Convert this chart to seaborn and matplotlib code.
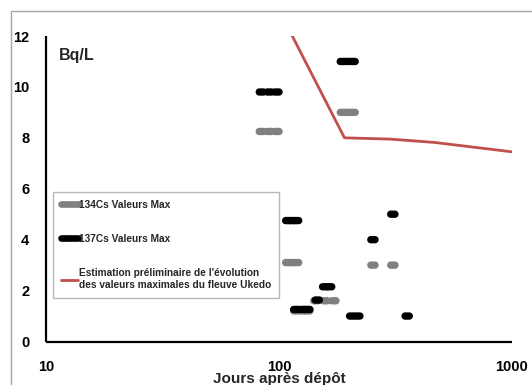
import matplotlib
matplotlib.use("Agg")
import numpy as np
import matplotlib.pyplot as plt
import seaborn as sns
import pandas as pd
from matplotlib.lines import Line2D
from matplotlib.path import Path
from matplotlib.patches import Rectangle
from matplotlib.ticker import FixedLocator, FixedFormatter, NullLocator

# ---- data ----
cs134_days = [84, 91, 98, 187, 197, 208, 109, 114, 119, 253, 308, 144, 158, 172, 118, 126, 133]
cs134_vals = [8.25, 8.25, 8.25, 9.0, 9.0, 9.0, 3.1, 3.1, 3.1, 3.0, 3.0, 1.6, 1.6, 1.6, 1.2, 1.2, 1.2]

cs137_days = [84, 91, 98, 187, 197, 208, 109, 114, 119, 308, 253, 157, 165, 146, 118, 126, 133, 205, 218, 355]
cs137_vals = [9.8, 9.8, 9.8, 11.0, 11.0, 11.0, 4.75, 4.75, 4.75, 5.0, 4.0, 2.15, 2.15, 1.63, 1.26, 1.26, 1.26, 1.0, 1.0, 1.0]

est_days = [114, 191, 300, 464, 1000]
est_vals = [12.0, 8.0, 7.95, 7.82, 7.45]

xticks = [10, 100, 1000]
xtick_labels = ["10", "100", "1000"]
yticks = [0, 2, 4, 6, 8, 10, 12]

labels = ["134Cs Valeurs Max", "137Cs Valeurs Max",
          "Estimation préliminaire de l'évolution\ndes valeurs maximales du fleuve Ukedo"]

GRAY = "#808080"
BLACK = "#000000"
RED = "#C0504D"

# rounded-dash marker shape (stadium)
_r = 0.32
_t1 = np.linspace(-np.pi / 2, np.pi / 2, 12)
_t2 = np.linspace(np.pi / 2, 3 * np.pi / 2, 12)
_verts = np.concatenate([
    np.column_stack([0.5 - _r + _r * np.cos(_t1), _r * np.sin(_t1)]),
    np.column_stack([-0.5 + _r + _r * np.cos(_t2), _r * np.sin(_t2)]),
])
_verts = np.vstack([_verts, _verts[:1]])
DASH = Path(_verts, closed=True)

sns.set_style("white")
plt.rcParams["font.family"] = ["Liberation Sans", "DejaVu Sans"]

fig = plt.figure(figsize=(5.32, 3.85), dpi=100)
ax = fig.add_axes([46 / 532, 1 - 341.5 / 385, 466 / 532, 305.5 / 385])

fig.patches.append(Rectangle((10.5 / 532, -0.1), 1.2, 1.1 - 11 / 385,
                             transform=fig.transFigure, fill=False,
                             edgecolor="#a6a6a6", lw=1.0, zorder=0))

df134 = pd.DataFrame({"days": cs134_days, "val": cs134_vals})
df137 = pd.DataFrame({"days": cs137_days, "val": cs137_vals})
dfest = pd.DataFrame({"days": est_days, "val": est_vals})

sns.lineplot(data=dfest, x="days", y="val", color=RED, lw=2.0, ax=ax, zorder=2)
sns.scatterplot(data=df134, x="days", y="val", marker=DASH, s=68, linewidth=0,
                edgecolor="none", color=GRAY, ax=ax, zorder=3)
sns.scatterplot(data=df137, x="days", y="val", marker=DASH, s=68, linewidth=0,
                edgecolor="none", color=BLACK, ax=ax, zorder=4)

ax.set_xscale("log")
ax.set_xlim(10, 1000)
ax.set_ylim(0, 12)
ax.xaxis.set_major_locator(FixedLocator(xticks))
ax.xaxis.set_major_formatter(FixedFormatter(xtick_labels))
ax.xaxis.set_minor_locator(NullLocator())
ax.set_yticks(yticks)
ax.set_yticklabels([str(v) for v in yticks])

for side in ["top", "right"]:
    ax.spines[side].set_visible(False)
for side in ["left", "bottom"]:
    ax.spines[side].set_linewidth(1.6)
    ax.spines[side].set_color("black")
    ax.spines[side].set_capstyle("butt")

ax.tick_params(axis="both", direction="out", length=5, width=1.6, color="black",
               labelsize=10.5, labelcolor="black")
ax.tick_params(axis="y", pad=7)
ax.tick_params(axis="x", pad=8)
for t in ax.get_xticklabels() + ax.get_yticklabels():
    t.set_fontweight("bold")

ax.set_xlabel("Jours après dépôt", fontsize=11, fontweight="bold", labelpad=-1)
ax.set_ylabel("")
ax.text(0.027, 0.935, "Bq/L", transform=ax.transAxes, fontsize=11.5,
        fontweight="bold", va="center", ha="left")

handles = [Line2D([], [], color=GRAY, lw=4.8, solid_capstyle="round"),
           Line2D([], [], color=BLACK, lw=4.8, solid_capstyle="round"),
           Line2D([], [], color=RED, lw=2.0)]
leg = ax.legend(handles, labels, loc="upper left", bbox_to_anchor=(0.015, 0.489),
                borderaxespad=0, frameon=True, fancybox=False, handlelength=1.7,
                handletextpad=0.1, labelspacing=2.4, borderpad=0.75,
                prop={"weight": "bold", "size": 7.3})
leg.get_frame().set_edgecolor("#a6a6a6")
leg.get_frame().set_linewidth(1.0)
leg.set_zorder(1)

fig.savefig("out.png", dpi=100)
